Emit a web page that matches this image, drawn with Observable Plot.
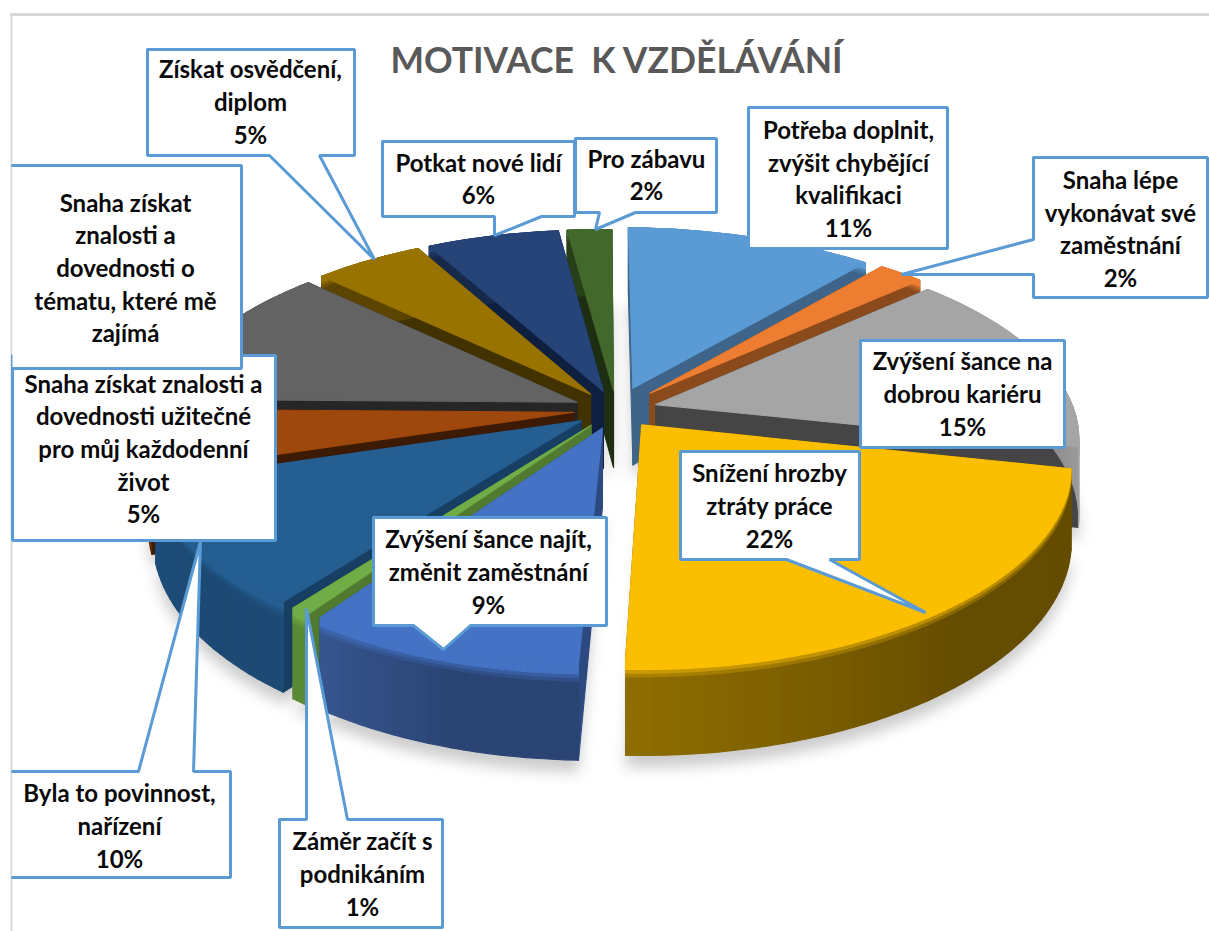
<!DOCTYPE html>
<html>
<head>
<meta charset="utf-8">
<script src="https://cdn.jsdelivr.net/npm/d3@7"></script>
<script src="https://cdn.jsdelivr.net/npm/@observablehq/plot@0.6"></script>
<style>html,body{margin:0;padding:0;background:#fff}svg{display:block}.pie-shadow{filter:blur(7px)}</style>
</head>
<body>
<div id="chart"></div>
<script>
const title = "MOTIVACE  K VZDĚLÁVÁNÍ";
const categories = [
  "Potřeba doplnit,\nzvýšit chybějící\nkvalifikaci",
  "Snaha lépe\nvykonávat své\nzaměstnání",
  "Zvýšení šance na\ndobrou kariéru",
  "Snížení hrozby\nztráty práce",
  "Zvýšení šance najít,\nzměnit zaměstnání",
  "Záměr začít s\npodnikáním",
  "Byla to povinnost,\nnařízení",
  "Snaha získat znalosti a\ndovednosti užitečné\npro můj každodenní\nživot",
  "Snaha získat\nznalosti a\ndovednosti o\ntématu, které mě\nzajímá",
  "Získat osvědčení,\ndiplom",
  "Potkat nové lidí",
  "Pro zábavu"
];
// shares; the printed percentages are these rounded
const values = [11, 2, 15, 22, 9, 0.65, 10, 5, 12, 5, 6, 2];
const showValue = [1, 1, 1, 1, 1, 1, 1, 1, 0, 1, 1, 1];

const topColors  = ["#5b9bd5","#ed7d31","#a5a5a5","#fbbf00","#4472c4","#70ad47","#255e91","#9e480e","#636363","#997300","#264478","#43682b"];
const sideColors = ["#3e6589","#8a4a1c","#454545","#6b5200","#2c4a80","#4f7a30","#173f63","#3c1a04","#262626","#413200","#0f1f40","#1d2e12"];
const wallStart  = ["#3e6589","#8a4a1c","#8a8a8a","#644c00","#2a4474","#5a8a35","#1c4a74","#5d2b08","#3c3c3c","#5c4500","#172a4a","#28401a"];
const wallEnd    = ["#3e6589","#8a4a1c","#a0a0a0","#8f6e00","#36558f","#5a8a35","#1e4d7a","#5d2b08","#3c3c3c","#5c4500","#172a4a","#28401a"];
const explodes   = [0.12, 0.12, 0.1, 0.1, 0.1, 0.1, 0.1, 0.1, 0.1, 0.1, 0.1, 0.1];

// view of the pie
const cx = 615, cy = 409, R = 418, tilt = 0.461, persp = 0.161, depth = 78, rot = 1.2, shear = 2.06, bend = -6.1;

function project(X, Y, z) {
  const p = 1 / (1 - persp * Y);
  return [cx + R * X * p + shear * Y + bend * Y * Y, cy + (R * tilt * Y + z) * p];
}
const rad = d => d * Math.PI / 180;
const total = d3.sum(values);
let cum = 0;
const slices = values.map((v, i) => {
  const a0 = cum / total * 360 + rot; cum += v;
  const a1 = cum / total * 360 + rot;
  const mid = (a0 + a1) / 2;
  return {i, a0, a1, mid, ox: explodes[i] * Math.sin(rad(mid)), oy: -explodes[i] * Math.cos(rad(mid))};
});
const order = slices.slice().sort((a, b) => a.oy - b.oy);

const faces = [], shadow = [];
function addFace(id, color, pts, arr = faces) {
  pts.forEach(([x, y]) => arr.push({face: id, color, x, y}));
}
for (const s of order) {
  const n = Math.max(4, Math.round((s.a1 - s.a0) / 1.5));
  const rim = (t, z) => {
    const a = rad(s.a0 + (s.a1 - s.a0) * t);
    return project(s.ox + Math.sin(a), s.oy - Math.cos(a), z);
  };
  const apex = z => project(s.ox, s.oy, z);
  const side = sideColors[s.i], top = topColors[s.i];
  addFace(`${s.i}a`, side, [apex(0), rim(0, 0), rim(0, depth), apex(depth), apex(0)]);
  addFace(`${s.i}b`, side, [apex(0), rim(1, 0), rim(1, depth), apex(depth), apex(0)]);
  const mix = d3.interpolateRgb(wallStart[s.i], wallEnd[s.i]);
  const wallColor = k => mix(Math.max(0, ((k + 0.5) / n - 0.45) / 0.55));
  const band = (k, z0, z1, c, tag) => {
    const t0 = k / n, t1 = (k + 1) / n;
    addFace(`${s.i}w${k}${tag}`, c, [rim(t0, z0), rim(t1, z0), rim(t1, z1), rim(t0, z1), rim(t0, z0)]);
  };
  const blends = [[0, 20, 0.0], [10, 13, 0.75], [7, 10, 0.45], [0, 7, 0.0]];
  blends.forEach(([z0, z1, m], b) => {
    if (b === 0) d3.range(n).forEach(k => band(k, 0, depth, wallColor(k), "m"));
    else d3.range(n).forEach(k => band(k, z0, z1, d3.interpolateRgb(top, wallColor(k))(m), "b" + b));
  });
  const ring = d3.range(n + 1).map(k => rim(k / n, 0));
  addFace(`${s.i}t`, top, [apex(0), ...ring, apex(0)]);
  const ringB = d3.range(n + 1).map(k => rim(k / n, depth));
  addFace(`${s.i}sh`, "#000", [apex(depth), ...ringB, apex(depth)], shadow);
}

// callout outlines, clockwise from top-left; an open left side is simply not closed
const callouts = [
  [[12,771],[138,771],[200,541],[193,771],[230,771],[230,877],[12,877]],
  [[279,819],[306,819],[306,608],[347,819],[442,819],[442,927],[279,927],[279,819]],
  [[12,355],[275,355],[275,540],[12,540],[12,355]],
  [[12,165],[241,165],[241,368],[12,368]],
  [[147,49],[354,49],[354,155],[319,155],[374,259],[269,155],[147,155],[147,49]],
  [[382,141],[574,141],[574,216],[541,216],[494,235],[494,216],[382,216],[382,141]],
  [[575,138],[716,138],[716,212],[635,212],[595,229],[599,212],[575,212],[575,138]],
  [[748,107],[947,107],[947,248],[748,248],[748,107]],
  [[1033,157],[1207,157],[1207,297],[1033,297],[1033,274],[901,274],[1033,239],[1033,157]],
  [[860,340],[1064,340],[1064,447],[860,447],[860,340]],
  [[680,451],[859,451],[859,559],[829,559],[925,612],[786,559],[680,559],[680,451]],
  [[373,517],[606,517],[606,625],[470,625],[443,649],[413,625],[373,625],[373,517]]
];
const calloutPts = callouts.flatMap((c, id) => c.map(([x, y]) => ({id, x, y})));

const labelX = [848, 1120, 962, 769, 488, 362, 119, 143, 125, 250, 478, 646];
const labelY = [177, 227, 392, 504, 570, 872, 824, 447, 266, 100, 177, 173];
const labels = categories.map((c, i) => ({
  text: showValue[i] ? `${c}\n${Math.round(values[i])}%` : c, x: labelX[i], y: labelY[i]
}));

const chart = Plot.plot({
  width: 1209, height: 931,
  marginTop: 0, marginRight: 0, marginBottom: 0, marginLeft: 0,
  x: {domain: [0, 1209], range: [0, 1209], axis: null},
  y: {domain: [0, 931], range: [0, 931], axis: null},
  color: {type: "identity"},
  style: {background: "#fff"},
  marks: [
    Plot.ruleY([14], {x1: 10, x2: 1209, stroke: "#d9d9d9", strokeWidth: 3}),
    Plot.ruleX([11], {y1: 14, y2: 931, stroke: "#d9d9d9", strokeWidth: 2}),
    Plot.line(shadow, {x: "x", y: "y", z: "face", fill: "#000", fillOpacity: 0.2, stroke: "none", dy: 12, className: "pie-shadow"}),
    Plot.line(faces, {x: "x", y: "y", z: "face", fill: "color", stroke: "color", strokeWidth: 1.1}),
    Plot.line(calloutPts, {x: "x", y: "y", z: "id", fill: "#fff", stroke: "#5b9bd5", strokeWidth: 3, strokeLinejoin: "miter"}),
    Plot.text(labels, {x: "x", y: "y", text: "text", fontFamily: "Lato", fontWeight: 700, fontSize: 24, lineHeight: 1.36, fill: "#0a0a0a", textAnchor: "middle", lineAnchor: "middle"}),
    Plot.text([title], {x: 616, y: 61, text: d => d, fontFamily: "Lato", fontWeight: 700, fontSize: 35.5, fill: "#595959", textAnchor: "middle", lineAnchor: "middle"})
  ]
});
document.getElementById("chart").append(chart);
</script>
</body>
</html>
